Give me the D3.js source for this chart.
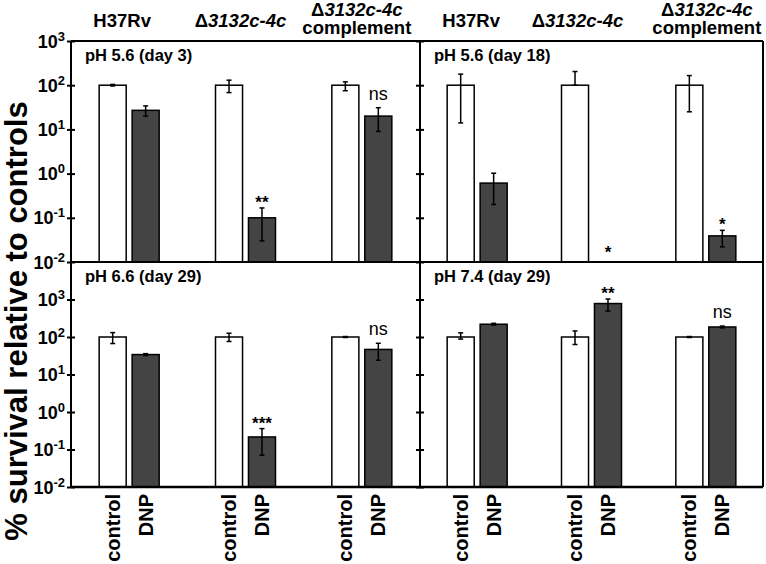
<!DOCTYPE html>
<html>
<head>
<meta charset="utf-8">
<script src="https://cdn.jsdelivr.net/npm/d3@7"></script>
<style>
  body { margin: 0; background: #fff; }
  text { font-family: "Liberation Sans", Arial, sans-serif; }
</style>
</head>
<body>
<script>
//strains along the x axis and the two treatments of each strain
var groups = ["H37Rv", "Δ3132c-4c", "Δ3132c-4c complement"];
var treatments = ["control", "DNP"];
//panel titles, order: top left, top right, bottom left, bottom right
var panelTitles = ["pH 5.6 (day 3)", "pH 5.6 (day 18)", "pH 6.6 (day 29)", "pH 7.4 (day 29)"];
//% survival, one row per panel, one value per strain
var ctrl   = [[100, 100, 100], [100, 100, 100], [100, 100, 100], [100, 100, 100]];
var ctrlHi = [[104, 130, 119], [178, 204, 165], [131, 126, 103], [129, 145, 103]];
var ctrlLo = [[96, 68, 75], [14, 100, 25], [67, 76, 97], [88, 63, 97]];
var dnp    = [[27, 0.1, 20], [0.61, null, 0.039], [34, 0.216, 46.6], [219, 780, 185]];
var dnpHi  = [[34, 0.167, 31], [1.02, null, 0.052], [36, 0.361, 68], [232, 1030, 196]];
var dnpLo  = [[20, 0.03, 9], [0.2, null, 0.022], [32, 0.0704, 24], [207, 490, 175]];
//significance marks over the DNP bars
var sig = [["", "**", "ns"], ["", "*", "*"], ["", "***", "ns"], ["", "**", "ns"]];
//y ticks, the same on every panel
var yTicks = [1e-2, 1e-1, 1e0, 1e1, 1e2, 1e3];
//y domain of the top row and of the bottom row
var yDomains = [[1e-2, 1e3], [1e-2, 1e4]];

//panel edges in pixels
var cols = [71, 420, 763];
var rows = [41, 262, 487];
//small nudges of the strain headers, same order as drawn
var headerDx = [-7, -5, -5, -6, -14, 1];
var font = "\"Liberation Sans\", Arial, sans-serif";

var svg = d3.select("body").append("svg")
    .attr("width", 766)
    .attr("height", 564);

//spreads control and DNP around the centre of a strain band
var xt = d3.scaleBand()
    .domain(treatments)
    .range([-30, 30])
    .paddingInner(0.18);

panelTitles.forEach(function(title, i) {
  var col = i % 2, row = Math.floor(i / 2);
  var left = cols[col], right = cols[col + 1];
  var top = rows[row], bottom = rows[row + 1];

  var xg = d3.scaleBand().domain(groups).range([left, right]);
  var y = d3.scaleLog().domain(yDomains[row]).range([bottom, top]);

  var data = [];
  groups.forEach(function(g, j) {
    data.push({group: g, treat: "control", v: ctrl[i][j], hi: ctrlHi[i][j], lo: ctrlLo[i][j], sig: ""});
    data.push({group: g, treat: "DNP", v: dnp[i][j], hi: dnpHi[i][j], lo: dnpLo[i][j], sig: sig[i][j]});
  });
  var cx = function(d) { return xg(d.group) + xg.bandwidth() / 2 + xt(d.treat) + xt.bandwidth() / 2; };

  var panel = svg.append("g").attr("class", "panel");

  //bars
  panel.selectAll(".bar")
      .data(data.filter(function(d) { return d.v != null; }))
      .enter()
      .append("rect")
      .attr("class", "bar")
      .attr("x", function(d) { return xg(d.group) + xg.bandwidth() / 2 + xt(d.treat); })
      .attr("width", xt.bandwidth())
      .attr("y", function(d) { return y(d.v); })
      .attr("height", function(d) { return bottom - y(d.v); })
      .attr("fill", function(d) { return d.treat == "DNP" ? "#444444" : "#ffffff"; })
      .attr("stroke", "#000")
      .attr("stroke-width", 1.5);

  //error bars with caps
  var err = panel.selectAll(".err")
      .data(data.filter(function(d) { return d.v != null; }))
      .enter()
      .append("g")
      .attr("class", "err")
      .attr("stroke", "#000")
      .attr("stroke-width", 1.5);
  err.append("line")
      .attr("x1", cx).attr("x2", cx)
      .attr("y1", function(d) { return y(d.lo); })
      .attr("y2", function(d) { return y(d.hi); });
  err.append("line")
      .attr("x1", function(d) { return cx(d) - 2.5; })
      .attr("x2", function(d) { return cx(d) + 2.5; })
      .attr("y1", function(d) { return y(d.hi); })
      .attr("y2", function(d) { return y(d.hi); });
  err.append("line")
      .attr("x1", function(d) { return cx(d) - 2.5; })
      .attr("x2", function(d) { return cx(d) + 2.5; })
      .attr("y1", function(d) { return y(d.lo); })
      .attr("y2", function(d) { return y(d.lo); });

  //significance marks
  panel.selectAll(".sig")
      .data(data.filter(function(d) { return d.sig; }))
      .enter()
      .append("text")
      .attr("class", "sig")
      .attr("x", cx)
      .attr("y", function(d) {
        if (d.v == null) return bottom - 4;
        return d.sig == "ns" ? y(d.hi) - 8 : y(d.hi);
      })
      .attr("text-anchor", "middle")
      .attr("font-size", function(d) { return d.sig == "ns" ? "18px" : "17px"; })
      .attr("font-weight", function(d) { return d.sig == "ns" ? "normal" : "bold"; })
      .text(function(d) { return d.sig; });

  //y axis with ticks crossing the line
  var axis = panel.append("g")
      .attr("class", "yaxis")
      .attr("transform", "translate(" + left + ",0)")
      .call(d3.axisLeft(y).tickValues(yTicks).tickSize(4).tickSizeOuter(0).tickFormat(""));
  axis.select(".domain").remove();
  axis.selectAll(".tick line").attr("x1", 4).attr("stroke-width", 2);

  if (col == 0) {
    var lab = axis.selectAll(".tick")
        .append("text")
        .attr("x", -6)
        .attr("y", 6)
        .attr("fill", "#000")
        .attr("text-anchor", "end")
        .attr("font-family", font)
        .attr("font-size", "18px")
        .attr("font-weight", "bold");
    lab.append("tspan").text("10");
    lab.append("tspan")
        .attr("dy", -7)
        .attr("font-size", "13px")
        .text(function(d) { return Math.round(Math.log10(d)); });
  }

  //panel title
  panel.append("text")
      .attr("x", left + 14)
      .attr("y", top + 20)
      .attr("font-size", "16.5px")
      .attr("font-weight", "bold")
      .text(title);

  //strain headers on top
  if (row == 0) {
    groups.forEach(function(g, j) {
      var hx = xg(g) + xg.bandwidth() / 2 + headerDx[col * 3 + j];
      var two = g.indexOf("complement") > 0;
      var name = g.replace(" complement", "");
      var t = svg.append("text")
          .attr("x", hx)
          .attr("y", two ? 16 : 27)
          .attr("text-anchor", "middle")
          .attr("font-size", "18.5px")
          .attr("font-weight", "bold");
      if (name.charAt(0) == "Δ") {
        t.append("tspan").text("Δ");
        t.append("tspan").attr("font-style", "italic").text(name.slice(1));
      } else {
        t.text(name);
      }
      if (two) {
        svg.append("text")
            .attr("x", hx)
            .attr("y", 34)
            .attr("text-anchor", "middle")
            .attr("font-size", "18.5px")
            .attr("font-weight", "bold")
            .text("complement");
      }
    });
  }

  //treatment labels under the bottom row
  if (row == 1) {
    panel.selectAll(".xlab")
        .data(data)
        .enter()
        .append("text")
        .attr("class", "xlab")
        .attr("transform", function(d) { return "translate(" + cx(d) + "," + (bottom + 7) + ") rotate(-90)"; })
        .attr("dy", "0.35em")
        .attr("text-anchor", "end")
        .attr("font-size", "20px")
        .attr("font-weight", "bold")
        .text(function(d) { return d.treat; });
  }
});

//frame lines
var frame = svg.append("g").attr("stroke", "#000").attr("stroke-width", 2);
frame.append("line").attr("x1", cols[0]).attr("x2", cols[2]).attr("y1", rows[0]).attr("y2", rows[0]);
frame.append("line").attr("x1", cols[0]).attr("x2", cols[2]).attr("y1", rows[1]).attr("y2", rows[1]);
frame.append("line").attr("x1", cols[0]).attr("x2", cols[2]).attr("y1", rows[2]).attr("y2", rows[2]).attr("stroke-width", 2.5);
cols.forEach(function(c) {
  frame.append("line").attr("x1", c).attr("x2", c).attr("y1", rows[0]).attr("y2", rows[2]);
});

//y title
svg.append("text")
    .attr("transform", "translate(27,321) rotate(-90)")
    .attr("text-anchor", "middle")
    .attr("font-size", "31px")
    .attr("font-weight", "bold")
    .text("% survival relative to controls");
</script>
</body>
</html>
